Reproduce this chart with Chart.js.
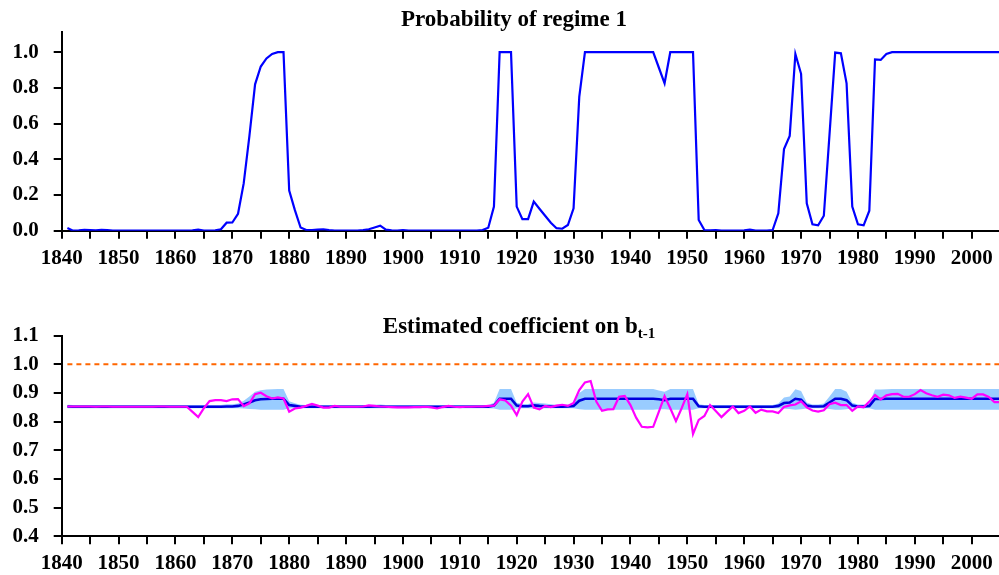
<!DOCTYPE html>
<html>
<head>
<meta charset="utf-8">
<script src="https://cdn.jsdelivr.net/npm/chart.js@4.4.1/dist/chart.umd.min.js"></script>
<style>
  html, body { margin: 0; padding: 0; background: #fff; }
  #page {
    position: relative; width: 999px; height: 575px; overflow: hidden;
    font-family: 'Liberation Serif', 'Times New Roman', serif; color: #000;
  }
  .panel { position: absolute; left: 0; width: 999px; }
  .panel-title {
    position: absolute; transform: translateX(-50%); white-space: nowrap;
    font-weight: bold; font-size: 23px; line-height: 23px;
  }
  .panel-title sub { font-size: 15px; vertical-align: -5px; line-height: 0; }
</style>
</head>
<body>
<div id="page">
  <div class="panel" style="top:0;height:280px">
    <canvas id="prob-chart" width="999" height="280"></canvas>
  </div>
  <div class="panel" style="top:280px;height:295px">
    <canvas id="coef-chart" width="999" height="295"></canvas>
  </div>
  <div class="panel-title" style="left:514px;top:7px">Probability of regime 1</div>
  <div class="panel-title" style="left:519px;top:314px">Estimated coefficient on b<sub>t-1</sub></div>
</div>

<script>
/* ================================================================
   DATA — one value per year, starting in FIRST_YEAR
================================================================ */
const FIRST_YEAR = 1841;

// smoothed probability of regime 1
const regimeProb = [
  0.015, 0.000, 0.002, 0.005, 0.004, 0.002, 0.005, 0.004, 0.001, 0.000, // 1841-1850
  0.000, 0.000, 0.001, 0.000, 0.000, 0.000, 0.000, 0.000, 0.000, 0.000, // 1851-1860
  0.000, 0.000, 0.002, 0.006, 0.001, 0.000, 0.002, 0.008, 0.045, 0.046, // 1861-1870
  0.095, 0.265, 0.530, 0.820, 0.920, 0.965, 0.990, 1.000, 1.000, 0.225, // 1871-1880
  0.115, 0.018, 0.004, 0.004, 0.006, 0.008, 0.004, 0.001, 0.000, 0.000, // 1881-1890
  0.000, 0.001, 0.003, 0.008, 0.018, 0.028, 0.006, 0.002, 0.001, 0.003, // 1891-1900
  0.001, 0.000, 0.000, 0.000, 0.000, 0.000, 0.000, 0.000, 0.000, 0.000, // 1901-1910
  0.000, 0.000, 0.000, 0.004, 0.017, 0.135, 1.000, 1.000, 1.000, 0.135, // 1911-1920
  0.065, 0.065, 0.163, 0.123, 0.084, 0.045, 0.014, 0.011, 0.032, 0.125, // 1921-1930
  0.750, 1.000, 1.000, 1.000, 1.000, 1.000, 1.000, 1.000, 1.000, 1.000, // 1931-1940
  1.000, 1.000, 1.000, 1.000, 0.913, 0.826, 1.000, 1.000, 1.000, 1.000, // 1941-1950
  1.000, 0.060, 0.004, 0.002, 0.003, 0.001, 0.000, 0.000, 0.001, 0.002, // 1951-1960
  0.006, 0.001, 0.000, 0.001, 0.004, 0.097, 0.458, 0.531, 0.990, 0.879, // 1961-1970
  0.153, 0.036, 0.030, 0.084, 0.540, 0.998, 0.994, 0.826, 0.135, 0.036, // 1971-1980
  0.030, 0.112, 0.960, 0.957, 0.990, 1.000, 1.000, 1.000, 1.000, 1.000, // 1981-1990
  1.000, 1.000, 1.000, 1.000, 1.000, 1.000, 1.000, 1.000, 1.000, 1.000, // 1991-2000
  1.000, 1.000, 1.000, 1.000, 1.000                                      // 2001-2005
];

// estimated coefficient on b(t-1) — dark blue line
const coefEstimate = [
  0.853, 0.852, 0.852, 0.852, 0.852, 0.852, 0.852, 0.852, 0.852, 0.852, // 1841-1850
  0.852, 0.852, 0.852, 0.852, 0.852, 0.852, 0.852, 0.852, 0.852, 0.852, // 1851-1860
  0.852, 0.852, 0.852, 0.852, 0.852, 0.852, 0.852, 0.852, 0.853, 0.853, // 1861-1870
  0.855, 0.860, 0.867, 0.875, 0.878, 0.879, 0.880, 0.880, 0.880, 0.858, // 1871-1880
  0.855, 0.852, 0.852, 0.852, 0.852, 0.852, 0.852, 0.852, 0.852, 0.852, // 1881-1890
  0.852, 0.852, 0.852, 0.852, 0.853, 0.853, 0.852, 0.852, 0.852, 0.852, // 1891-1900
  0.852, 0.852, 0.852, 0.852, 0.852, 0.852, 0.852, 0.852, 0.852, 0.852, // 1901-1910
  0.852, 0.852, 0.852, 0.852, 0.852, 0.856, 0.880, 0.880, 0.880, 0.856, // 1911-1920
  0.854, 0.854, 0.857, 0.855, 0.854, 0.853, 0.852, 0.852, 0.853, 0.855, // 1921-1930
  0.873, 0.880, 0.880, 0.880, 0.880, 0.880, 0.880, 0.880, 0.880, 0.880, // 1931-1940
  0.880, 0.880, 0.880, 0.880, 0.878, 0.875, 0.880, 0.880, 0.880, 0.880, // 1941-1950
  0.880, 0.854, 0.852, 0.852, 0.852, 0.852, 0.852, 0.852, 0.852, 0.852, // 1951-1960
  0.852, 0.852, 0.852, 0.852, 0.852, 0.855, 0.865, 0.867, 0.880, 0.877, // 1961-1970
  0.856, 0.853, 0.853, 0.854, 0.867, 0.880, 0.880, 0.875, 0.856, 0.853, // 1971-1980
  0.853, 0.855, 0.879, 0.879, 0.880, 0.880, 0.880, 0.880, 0.880, 0.880, // 1981-1990
  0.880, 0.880, 0.880, 0.880, 0.880, 0.880, 0.880, 0.880, 0.880, 0.880, // 1991-2000
  0.880, 0.880, 0.880, 0.880, 0.880                                      // 2001-2005
];

// magenta line
const recursiveEstimate = [
  0.853, 0.853, 0.853, 0.853, 0.853, 0.852, 0.853, 0.853, 0.852, 0.852, // 1841-1850
  0.852, 0.852, 0.852, 0.852, 0.852, 0.852, 0.853, 0.853, 0.852, 0.852, // 1851-1860
  0.852, 0.852, 0.834, 0.816, 0.847, 0.872, 0.875, 0.875, 0.872, 0.878, // 1861-1870
  0.879, 0.854, 0.864, 0.896, 0.901, 0.889, 0.881, 0.885, 0.881, 0.835, // 1871-1880
  0.846, 0.849, 0.855, 0.862, 0.856, 0.849, 0.849, 0.855, 0.852, 0.852, // 1881-1890
  0.852, 0.852, 0.853, 0.857, 0.855, 0.853, 0.852, 0.851, 0.850, 0.850, // 1891-1900
  0.850, 0.851, 0.851, 0.852, 0.850, 0.846, 0.851, 0.855, 0.852, 0.851, // 1901-1910
  0.852, 0.852, 0.853, 0.853, 0.855, 0.856, 0.878, 0.874, 0.856, 0.823, // 1911-1920
  0.870, 0.896, 0.849, 0.843, 0.855, 0.851, 0.856, 0.859, 0.855, 0.865, // 1921-1930
  0.910, 0.937, 0.942, 0.870, 0.838, 0.843, 0.844, 0.887, 0.890, 0.858, // 1931-1940
  0.814, 0.782, 0.780, 0.782, 0.835, 0.889, 0.847, 0.802, 0.847, 0.896, // 1941-1950
  0.757, 0.806, 0.820, 0.858, 0.837, 0.816, 0.835, 0.853, 0.830, 0.838, // 1951-1960
  0.853, 0.831, 0.842, 0.836, 0.836, 0.830, 0.851, 0.857, 0.860, 0.871, // 1961-1970
  0.850, 0.839, 0.835, 0.840, 0.861, 0.866, 0.858, 0.858, 0.838, 0.853, // 1971-1980
  0.850, 0.870, 0.893, 0.878, 0.892, 0.896, 0.897, 0.887, 0.887, 0.896, // 1981-1990
  0.910, 0.899, 0.892, 0.887, 0.894, 0.892, 0.883, 0.887, 0.884, 0.880, // 1991-2000
  0.895, 0.895, 0.886, 0.868, 0.868                                      // 2001-2005
];

// light blue band around the estimate
const bandUpper = [
  0.859, 0.858, 0.858, 0.858, 0.858, 0.858, 0.858, 0.858, 0.858, 0.858, // 1841-1850
  0.858, 0.858, 0.858, 0.858, 0.858, 0.858, 0.858, 0.858, 0.858, 0.858, // 1851-1860
  0.858, 0.858, 0.858, 0.858, 0.858, 0.858, 0.858, 0.858, 0.861, 0.861, // 1861-1870
  0.863, 0.873, 0.888, 0.904, 0.910, 0.912, 0.913, 0.914, 0.914, 0.871, // 1871-1880
  0.864, 0.859, 0.858, 0.858, 0.858, 0.858, 0.858, 0.858, 0.858, 0.858, // 1881-1890
  0.858, 0.858, 0.858, 0.858, 0.859, 0.860, 0.858, 0.858, 0.858, 0.858, // 1891-1900
  0.858, 0.858, 0.858, 0.858, 0.858, 0.858, 0.858, 0.858, 0.858, 0.858, // 1901-1910
  0.858, 0.858, 0.858, 0.858, 0.858, 0.866, 0.914, 0.914, 0.914, 0.866, // 1911-1920
  0.862, 0.862, 0.867, 0.865, 0.863, 0.861, 0.859, 0.859, 0.860, 0.865, // 1921-1930
  0.900, 0.914, 0.914, 0.914, 0.914, 0.914, 0.914, 0.914, 0.914, 0.914, // 1931-1940
  0.914, 0.914, 0.914, 0.914, 0.909, 0.904, 0.914, 0.914, 0.914, 0.914, // 1941-1950
  0.914, 0.861, 0.858, 0.858, 0.858, 0.858, 0.858, 0.858, 0.858, 0.858, // 1951-1960
  0.858, 0.858, 0.858, 0.858, 0.858, 0.863, 0.884, 0.888, 0.913, 0.907, // 1961-1970
  0.867, 0.860, 0.860, 0.863, 0.888, 0.914, 0.914, 0.904, 0.866, 0.860, // 1971-1980
  0.860, 0.864, 0.912, 0.912, 0.913, 0.914, 0.914, 0.914, 0.914, 0.914, // 1981-1990
  0.914, 0.914, 0.914, 0.914, 0.914, 0.914, 0.914, 0.914, 0.914, 0.914, // 1991-2000
  0.914, 0.914, 0.914, 0.914, 0.914                                      // 2001-2005
];

const bandLower = [
  0.847, 0.847, 0.847, 0.847, 0.847, 0.847, 0.847, 0.847, 0.847, 0.847, // 1841-1850
  0.847, 0.847, 0.847, 0.847, 0.847, 0.847, 0.847, 0.847, 0.847, 0.847, // 1851-1860
  0.847, 0.847, 0.847, 0.847, 0.847, 0.847, 0.847, 0.847, 0.847, 0.847, // 1861-1870
  0.847, 0.846, 0.844, 0.843, 0.842, 0.842, 0.842, 0.842, 0.842, 0.846, // 1871-1880
  0.847, 0.847, 0.847, 0.847, 0.847, 0.847, 0.847, 0.847, 0.847, 0.847, // 1881-1890
  0.847, 0.847, 0.847, 0.847, 0.847, 0.847, 0.847, 0.847, 0.847, 0.847, // 1891-1900
  0.847, 0.847, 0.847, 0.847, 0.847, 0.847, 0.847, 0.847, 0.847, 0.847, // 1901-1910
  0.847, 0.847, 0.847, 0.847, 0.847, 0.846, 0.842, 0.842, 0.842, 0.846, // 1911-1920
  0.847, 0.847, 0.846, 0.847, 0.847, 0.847, 0.847, 0.847, 0.847, 0.847, // 1921-1930
  0.843, 0.842, 0.842, 0.842, 0.842, 0.842, 0.842, 0.842, 0.842, 0.842, // 1931-1940
  0.842, 0.842, 0.842, 0.842, 0.843, 0.843, 0.842, 0.842, 0.842, 0.842, // 1941-1950
  0.842, 0.847, 0.847, 0.847, 0.847, 0.847, 0.847, 0.847, 0.847, 0.847, // 1951-1960
  0.847, 0.847, 0.847, 0.847, 0.847, 0.847, 0.845, 0.844, 0.842, 0.843, // 1961-1970
  0.846, 0.847, 0.847, 0.847, 0.844, 0.842, 0.842, 0.843, 0.846, 0.847, // 1971-1980
  0.847, 0.847, 0.842, 0.842, 0.842, 0.842, 0.842, 0.842, 0.842, 0.842, // 1981-1990
  0.842, 0.842, 0.842, 0.842, 0.842, 0.842, 0.842, 0.842, 0.842, 0.842, // 1991-2000
  0.842, 0.842, 0.842, 0.842, 0.842                                      // 2001-2005
];

// horizontal reference line (unit root)
const unitRoot = 1.0;

// axis ranges and tick steps
const X_MIN = 1840, X_MAX = 2004.8, X_STEP = 5, X_LABEL_EVERY = 10;
const PROB_MIN = 0, PROB_MAX = 1.115, PROB_STEP = 0.2;
const COEF_MIN = 0.4, COEF_MAX = 1.1, COEF_STEP = 0.1;


/* ================================================================
   HELPERS
================================================================ */
const years = regimeProb.map((_, i) => FIRST_YEAR + i);
const toPoints = values => years.map((yr, i) => ({ x: yr, y: values[i] }));

const TICK_FONT = { family: "'Liberation Serif', 'Times New Roman', serif", size: 21, weight: 'bold' };

// pins the axis box to a fixed size so the plot area lands where we want it
function pinScale(width, height) {
  return scale => {
    if (width != null) scale.width = width;
    if (height != null) scale.height = height;
    scale.paddingLeft = scale.paddingRight = 0;
    scale.paddingTop = scale.paddingBottom = 0;
  };
}

function axisStyle() {
  return {
    border: { display: true, color: '#000', width: 2 },
    grid:   { drawOnChartArea: false, drawTicks: true, tickLength: 8, color: '#000', lineWidth: 2 },
  };
}

function buildScales(yMin, yMax, yStep, xAxisHeight) {
  return {
    x: {
      type: 'linear', min: X_MIN, max: X_MAX,
      afterFit: pinScale(null, xAxisHeight),
      ...axisStyle(),
      ticks: {
        stepSize: X_STEP, includeBounds: false, autoSkip: false, maxRotation: 0,
        padding: 7, color: '#000', font: TICK_FONT,
        callback: v => (v % X_LABEL_EVERY === 0 ? String(v) : ''),
      },
    },
    y: {
      type: 'linear', min: yMin, max: yMax,
      afterFit: pinScale(61.7, null),
      ...axisStyle(),
      ticks: {
        stepSize: yStep, includeBounds: false, padding: 15, color: '#000', font: TICK_FONT,
        callback: v => Number(v).toFixed(1),
      },
    },
  };
}

const baseOptions = {
  responsive: false,
  devicePixelRatio: 1,
  animation: false,
  events: [],
  plugins: { legend: { display: false }, tooltip: { enabled: false }, title: { display: false } },
  elements: { point: { radius: 0 }, line: { tension: 0 } },
};


/* ================================================================
   TOP PANEL — probability of regime 1
================================================================ */
new Chart(document.getElementById('prob-chart'), {
  type: 'line',
  data: {
    datasets: [{
      data: toPoints(regimeProb),
      borderColor: '#0000FF',
      borderWidth: 2.2,
      fill: false,
    }],
  },
  options: {
    ...baseOptions,
    layout: { padding: { top: 31.7, left: 0, right: 0, bottom: 0 } },
    scales: buildScales(PROB_MIN, PROB_MAX, PROB_STEP, 280 - 230.7),
  },
});


/* ================================================================
   BOTTOM PANEL — estimated coefficient on b(t-1)
   (lower dataset index = drawn on top, so "order" sets the stacking)
================================================================ */
new Chart(document.getElementById('coef-chart'), {
  type: 'line',
  data: {
    datasets: [
      { // band lower edge (invisible)
        data: toPoints(bandLower),
        borderWidth: 0, borderColor: 'rgba(0,0,0,0)',
        fill: false, order: 5,
      },
      { // band upper edge, filled down to the lower edge
        data: toPoints(bandUpper),
        borderWidth: 0, borderColor: 'rgba(0,0,0,0)',
        backgroundColor: '#99CCFF',
        fill: '-1', order: 4,
      },
      {
        data: toPoints(coefEstimate),
        borderColor: '#0000DD', borderWidth: 2.6,
        fill: false, order: 2,
      },
      {
        data: toPoints(recursiveEstimate),
        borderColor: '#FF00FF', borderWidth: 2.2,
        fill: false, order: 1,
      },
      {
        data: years.map(yr => ({ x: yr, y: unitRoot })),
        borderColor: '#FF6600', borderWidth: 2, borderDash: [5, 4],
        fill: false, order: 3,
      },
    ],
  },
  options: {
    ...baseOptions,
    layout: { padding: { top: 55.7, left: 0, right: 0, bottom: 0 } },
    scales: buildScales(COEF_MIN, COEF_MAX, COEF_STEP, 295 - 256.3),
  },
});
</script>
</body>
</html>
